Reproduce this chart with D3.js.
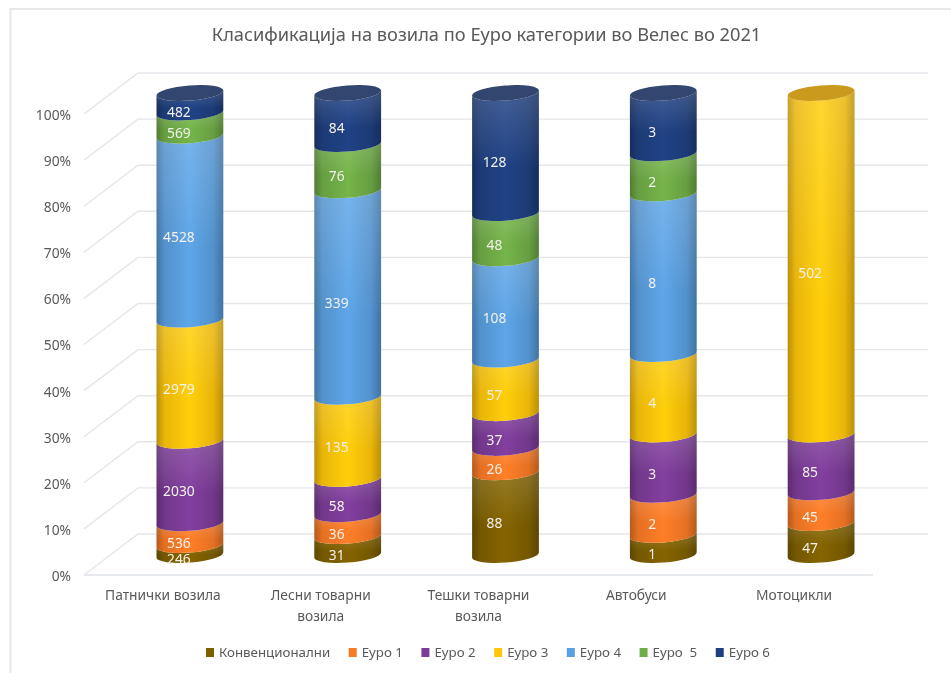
<!DOCTYPE html>
<html><head><meta charset="utf-8">
<script src="https://cdn.jsdelivr.net/npm/d3@7"></script>
<style>
html,body{margin:0;padding:0;background:#fff;}
svg{display:block;filter:blur(0.35px);}
text{font-family:"Noto Sans",sans-serif;}
</style></head><body>
<svg id="c" width="951" height="673"></svg>
<script>
const title = "Класификација на возила по Еуро категории во Велес во 2021";
const categories = [["Патнички возила"],["Лесни товарни","возила"],["Тешки товарни","возила"],["Автобуси"],["Мотоцикли"]];
const seriesNames = ["Конвенционални","Еуро 1","Еуро 2","Еуро 3","Еуро 4","Еуро  5","Еуро 6"];
const seriesColors = ["#7f6000","#f97a26","#7d3c98","#ffc60a","#5a9fdf","#70ad47","#1f3f80"];
const topColors = {6:"#33466f",3:"#c99a1e"};
const conv  = [246,31,88,1,47];
const euro1 = [536,36,26,2,45];
const euro2 = [2030,58,37,3,85];
const euro3 = [2979,135,57,4,502];
const euro4 = [4528,339,108,8,0];
const euro5 = [569,76,48,2,0];
const euro6 = [482,84,128,3,0];
const allSeries = [conv,euro1,euro2,euro3,euro4,euro5,euro6];
const yTicks = [0,10,20,30,40,50,60,70,80,90,100];

const svg = d3.select("#c");
const defs = svg.append("defs");
const W = 951, H = 673;
const depthX = 54, depthY = 41;
const rx = 33.5, ry = 7.5, tilt = -4.5;
const front = {left:84, right:873, bottom:575, top:114};

const x = d3.scaleBand().domain(d3.range(categories.length)).range([front.left, front.right]).paddingInner(0).paddingOuter(0);
const y = d3.scaleLinear().domain([0,100]).range([front.bottom, front.top]);
const yCyl = d3.scaleLinear().domain([0,100]).range([555, 93]);
const cx = i => x(i) + x.bandwidth()/2 + depthX/2;

// frame
svg.append("path").attr("d",`M10.5 ${H} V9 H${W}`).attr("fill","none").attr("stroke","#e8e8e8").attr("stroke-width",2);

// title
svg.append("text").attr("x",486.5).attr("y",41).attr("text-anchor","middle").attr("font-size",18.25).attr("fill","#595959").text(title);

// grid
const grid = svg.append("g").attr("fill","none").attr("stroke","#e4e6ea").attr("stroke-width",1.4);
yTicks.forEach(t=>{
  grid.append("path").attr("d",`M${front.left} ${y(t)} L${front.left+depthX} ${y(t)-depthY} H928`);
});
grid.append("path").attr("d",`M${front.left} ${y(0)} H${front.right}`).attr("stroke","#dfe3ea");

// y axis
const axis = svg.append("g").attr("transform",`translate(${front.left-13},1)`)
  .call(d3.axisLeft(y).tickValues(yTicks).tickSize(0).tickPadding(0).tickFormat(d=>d+"%"));
axis.select(".domain").remove();
axis.selectAll("text").attr("font-size",13.8).attr("fill","#595959").style("font-family",'"Noto Sans",sans-serif');

// gradients
seriesColors.forEach((c,k)=>{
  const g = defs.append("linearGradient").attr("id","s"+k).attr("x1",0).attr("x2",1).attr("y1",0).attr("y2",0);
  const d = d3.color(c).darker(0.9), m = d3.color(c).darker(0.25), l = d3.color(c).brighter(0.12);
  [[0,d],[0.12,m],[0.5,l],[0.85,m],[1,d]].forEach(s=>g.append("stop").attr("offset",s[0]).attr("stop-color",s[1]));
});
const sh = defs.append("linearGradient").attr("id","sheen").attr("x1",0).attr("x2",0).attr("y1",0).attr("y2",1);
sh.append("stop").attr("offset",0).attr("stop-color","#fff").attr("stop-opacity",0.16);
sh.append("stop").attr("offset",0.6).attr("stop-color","#fff").attr("stop-opacity",0);

const dxT = rx*Math.cos(tilt*Math.PI/180), dyT = rx*Math.sin(tilt*Math.PI/180);
function seg(c,y0,y1){
  return `M${c-dxT} ${y0-dyT} A${rx} ${ry} ${tilt} 0 0 ${c+dxT} ${y0+dyT} L${c+dxT} ${y1+dyT} A${rx} ${ry} ${tilt} 0 1 ${c-dxT} ${y1-dyT} Z`;
}
function cap(c,yy){
  return `M${c-dxT} ${yy-dyT} A${rx} ${ry} ${tilt} 1 0 ${c+dxT} ${yy+dyT} A${rx} ${ry} ${tilt} 1 0 ${c-dxT} ${yy-dyT} Z`;
}

// stacked cylinders
const bars = svg.append("g"), labels = svg.append("g");
categories.forEach((cat,i)=>{
  const vals = allSeries.map(s=>s[i]);
  const total = d3.sum(vals);
  let cum = 0, lastK = 0;
  vals.forEach((v,k)=>{
    if(!v) return;
    const p0 = cum/total*100; cum += v; const p1 = cum/total*100;
    const y0 = yCyl(p0), y1 = yCyl(p1);
    const d = seg(cx(i),y0,y1);
    bars.append("path").attr("d",d).attr("fill",`url(#s${k})`);
    bars.append("path").attr("d",d).attr("fill","url(#sheen)");
    labels.append("text").attr("x",cx(i)-11).attr("y",(y0+y1)/2+14).attr("text-anchor","middle")
      .attr("font-size",13.8).attr("fill","#f4f1ea").text(v);
    lastK = k;
  });
  bars.append("path").attr("d",cap(cx(i),yCyl(100))).attr("fill",topColors[lastK]);
  // category labels
  const t = svg.append("text").attr("text-anchor","middle").attr("font-size",13.8).attr("fill","#595959");
  cat.forEach((line,j)=>t.append("tspan").attr("x",x(i)+x.bandwidth()/2).attr("y",600+j*21).text(line));
});

// legend
const leg = svg.append("g");
let lx = 206;
seriesNames.forEach((n,k)=>{
  leg.append("rect").attr("x",lx).attr("y",648).attr("width",8).attr("height",9).attr("fill",seriesColors[k]);
  const t = leg.append("text").attr("x",lx+13).attr("y",657).attr("font-size",13.3).attr("fill","#595959").attr("xml:space","preserve").style("white-space","pre").text(n);
  lx += 13 + t.node().getComputedTextLength() + 18.5;
});
</script>
</body></html>
